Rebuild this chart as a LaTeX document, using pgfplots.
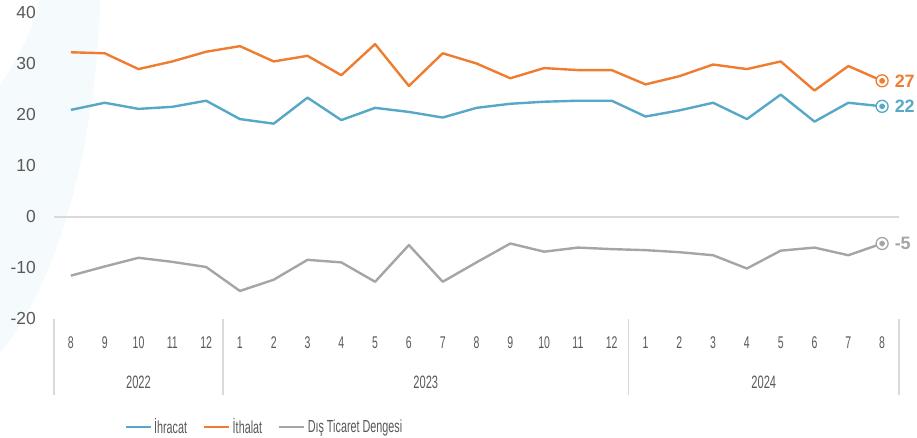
\documentclass[border=0pt]{standalone}
\usepackage{fontspec}
\setmainfont{Liberation Sans}
\usepackage{pgfplots}
\pgfplotsset{compat=1.18}
\usepackage{graphicx}

\definecolor{ihr}{RGB}{86,168,198}
\definecolor{ith}{RGB}{238,125,49}
\definecolor{dtd}{RGB}{165,165,165}
\definecolor{tickc}{RGB}{89,89,89}
\definecolor{sepc}{RGB}{217,217,217}
\definecolor{bgc}{RGB}{245,250,252}

\newcommand{\nar}[1]{\scalebox{0.62}[1]{#1}}

\begin{document}
\begin{tikzpicture}[x=1bp,y=1bp]
\path[use as bounding box] (0,0) rectangle (917,438);
% faint background arc
\fill[bgc] (40,438) -- (100,438) .. controls (98,330) and (70,170) .. (0,85)
  -- (0,353) .. controls (15,375) and (30,400) .. (40,438) -- cycle;

\begin{axis}[
  at={(54bp,119bp)}, anchor=south west,
  scale only axis, width=845bp, height=306bp,
  xmin=-0.5, xmax=24.5, ymin=-20, ymax=40,
  clip=false,
  axis line style={draw=none},
  major tick length=0pt,
  ytick={-20,-10,...,40},
  xtick={0,...,24},
  xticklabels={\nar{8},\nar{9},\nar{10},\nar{11},\nar{12},
    \nar{1},\nar{2},\nar{3},\nar{4},\nar{5},\nar{6},\nar{7},\nar{8},
    \nar{9},\nar{10},\nar{11},\nar{12},
    \nar{1},\nar{2},\nar{3},\nar{4},\nar{5},\nar{6},\nar{7},\nar{8}},
  /pgf/number format/assume math mode=true,
  yticklabel style={font=\fontsize{17.5}{18}\selectfont, text=tickc,
    anchor=east, inner sep=0pt, xshift=-18bp},
  xticklabel style={font=\fontsize{17}{17}\selectfont, text=tickc,
    anchor=center, inner sep=0pt, yshift=-24bp},
  legend style={at={(0.249,-0.353)}, anchor=center, draw=none,
    legend columns=-1, font=\fontsize{17.5}{18}\selectfont, text=tickc,
    /tikz/every even column/.append style={column sep=14bp},
    inner sep=0pt},
  legend cell align=left,
  legend image code/.code={\draw[#1, line width=2.6bp] (0,0) -- (25bp,0);},
  every axis plot/.append style={line width=2.4bp, line join=round},
]
% zero line
\addplot[sepc, line width=1.2bp, forget plot] coordinates {(-0.5,0) (24.5,0)};

\addplot[ihr] coordinates {
(0,21.0) (1,22.4) (2,21.2) (3,21.6) (4,22.8) (5,19.2) (6,18.3) (7,23.4)
(8,19.0) (9,21.4) (10,20.6) (11,19.5) (12,21.4) (13,22.2) (14,22.6) (15,22.8)
(16,22.8) (17,19.7) (18,20.9) (19,22.4) (20,19.2) (21,24.0) (22,18.7) (23,22.4)
(24,21.7)};
\addlegendentry{\nar{İhracat}}

\addplot[ith] coordinates {
(0,32.3) (1,32.1) (2,29.0) (3,30.5) (4,32.4) (5,33.5) (6,30.5) (7,31.6)
(8,27.8) (9,33.9) (10,25.7) (11,32.1) (12,30.1) (13,27.2) (14,29.2) (15,28.8)
(16,28.8) (17,26.0) (18,27.6) (19,29.9) (20,29.0) (21,30.5) (22,24.8) (23,29.6)
(24,26.7)};
\addlegendentry{\nar{İthalat}}

\addplot[dtd] coordinates {
(0,-11.5) (1,-9.7) (2,-8.0) (3,-8.8) (4,-9.8) (5,-14.5) (6,-12.3) (7,-8.4)
(8,-8.9) (9,-12.7) (10,-5.5) (11,-12.7) (12,-8.9) (13,-5.2) (14,-6.8) (15,-6.0)
(16,-6.3) (17,-6.5) (18,-6.9) (19,-7.5) (20,-10.1) (21,-6.6) (22,-6.0) (23,-7.5)
(24,-5.2)};
\addlegendentry{\nar{Dış Ticaret Dengesi}}

% end markers with labels
\pgfplotsset{endlab/.style={only marks, mark=*, mark size=6bp, color=#1,
  mark options={fill=white, draw=#1, line width=1.3bp},
  nodes near coords, point meta=explicit symbolic,
  every node near coord/.style={anchor=west, xshift=12bp, inner sep=0pt,
    text=#1, font=\bfseries\fontsize{18}{18}\selectfont},
  forget plot}}
\pgfplotsset{enddot/.style={only marks, mark=*, mark size=1.9bp, color=#1,
  forget plot}}
\addplot[endlab=ith] coordinates {(24,26.7) [27]};
\addplot[enddot=ith] coordinates {(24,26.7)};
\addplot[endlab=ihr] coordinates {(24,21.7) [22]};
\addplot[enddot=ihr] coordinates {(24,21.7)};
\addplot[endlab=dtd] coordinates {(24,-5.2) [-5]};
\addplot[enddot=dtd] coordinates {(24,-5.2)};

% category separators and year labels
\pgfplotsinvokeforeach{-0.5,4.5,16.5,24.5}{
  \draw[sepc, line width=1.2bp] (axis cs:#1,-20) -- ([yshift=-76bp]axis cs:#1,-20);
}
\node[font=\fontsize{18}{18}\selectfont, text=tickc, inner sep=0pt]
  at (axis cs:2,-20) [yshift=-63bp] {\nar{2022}};
\node[font=\fontsize{18}{18}\selectfont, text=tickc, inner sep=0pt]
  at (axis cs:10.5,-20) [yshift=-63bp] {\nar{2023}};
\node[font=\fontsize{18}{18}\selectfont, text=tickc, inner sep=0pt]
  at (axis cs:20.5,-20) [yshift=-63bp] {\nar{2024}};
\end{axis}
\end{tikzpicture}
\end{document}
